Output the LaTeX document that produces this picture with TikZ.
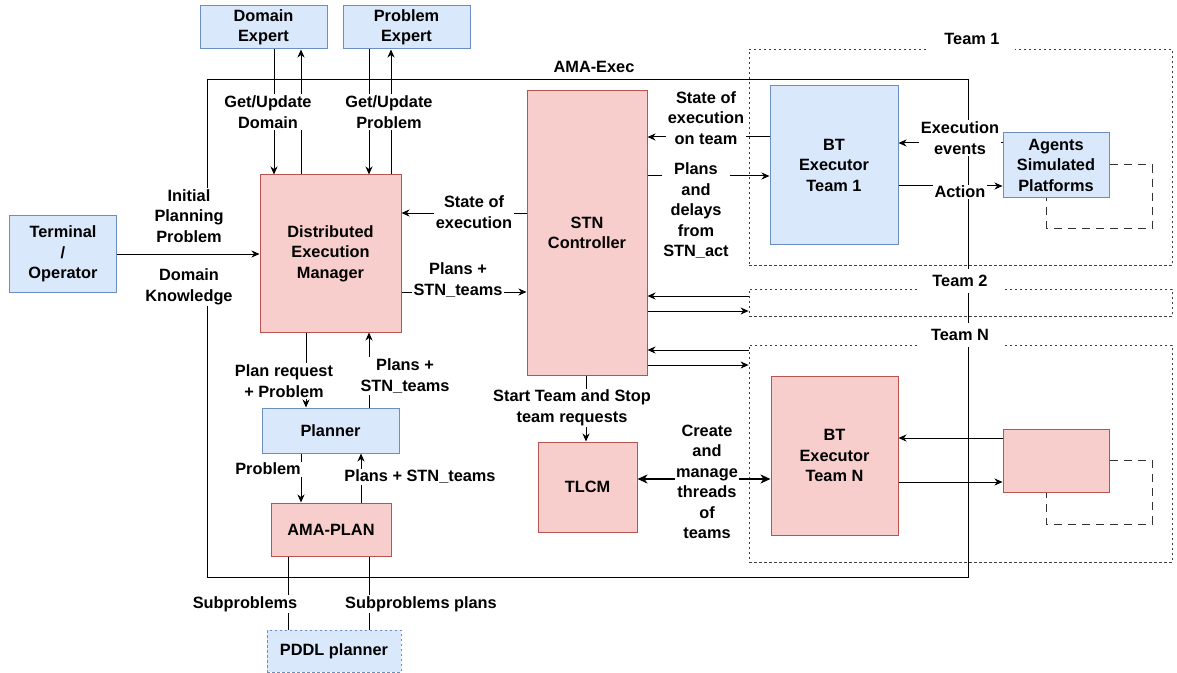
\documentclass[tikz,border=0pt]{standalone}
\usepackage{fontspec}
\setmainfont{Liberation Sans}
\usetikzlibrary{arrows.meta}

\definecolor{bfill}{HTML}{DAE8FC}
\definecolor{bline}{HTML}{6C8EBF}
\definecolor{rfill}{HTML}{F8CECC}
\definecolor{rline}{HTML}{B85450}

\newcommand{\figfont}{\fontsize{16.4}{20.6}\selectfont\bfseries}

\begin{document}
\begin{tikzpicture}[x=1bp, y=-1bp,
    box/.style={draw, align=center, font=\figfont, inner sep=2bp, line width=1bp},
    bluebox/.style={box, fill=bfill, draw=bline},
    redbox/.style={box, fill=rfill, draw=rline},
    teambox/.style={draw=black!75, line width=0.8bp, dash pattern=on 2.5bp off 2.5bp},
    loopdash/.style={draw=black!80, line width=1bp, dash pattern=on 8bp off 6bp},
    lbl/.style={fill=white, inner sep=1.5bp, align=center, font=\figfont},
    arr/.style={-{Stealth[length=8bp,width=7bp,inset=2.5bp]}, line width=1bp},
    bigarr/.style={{Stealth[length=10bp,width=9bp,inset=3bp]}-{Stealth[length=10bp,width=9bp,inset=3bp]}, line width=2bp}]

    \useasboundingbox (0,0) rectangle (1177,673);

    % Draw the AMA-Exec frame (left side is broken by the terminal labels)
    \draw[line width=1bp] (207,200) -- (207,80) -- (968,80) -- (968,577) -- (207,577) -- (207,296);
    \node[font=\figfont] (amaexec) at (594,67) {AMA-Exec};

    % Team frames
    \node[teambox, minimum width=423bp, minimum height=216bp] (team1) at (960.5,157) {};
    \node[teambox, minimum width=423bp, minimum height=27bp] (team2) at (960.5,302.5) {};
    \node[teambox, minimum width=423bp, minimum height=217bp] (teamn) at (960.5,453.5) {};
    \node[lbl, minimum width=86bp, minimum height=22bp] (team1lbl) at (972,39) {Team 1};
    \node[lbl, minimum width=85bp, minimum height=24bp] (team2lbl) at (960,281) {Team 2};
    \node[lbl, minimum width=85bp, minimum height=24bp] (teamnlbl) at (960,335) {Team N};

    % Blocks
    \node[bluebox, minimum width=127bp, minimum height=43bp] (de) at (263.5,27.5) {Domain\\Expert};
    \node[bluebox, minimum width=127bp, minimum height=43bp] (pe) at (406.5,27.5) {Problem\\Expert};
    \node[bluebox, minimum width=106bp, minimum height=76bp] (term) at (63,254) {Terminal\\/\\Operator};
    \node[redbox, minimum width=141bp, minimum height=157bp] (dem) at (330.5,253.5) {Distributed\\Execution\\Manager};
    \node[redbox, minimum width=120bp, minimum height=284bp] (stn) at (587,233) {STN\\Controller};
    \node[bluebox, minimum width=137bp, minimum height=45bp] (pl) at (330.5,430.5) {Planner};
    \node[redbox, minimum width=120bp, minimum height=53bp] (ap) at (331,529.5) {AMA-PLAN};
    \node[bluebox, dash pattern=on 2.5bp off 2.5bp, minimum width=134bp, minimum height=42bp] (pddl) at (334,651) {PDDL planner};
    \node[redbox, minimum width=99bp, minimum height=90bp] (tlcm) at (587.5,487) {TLCM};
    \node[bluebox, minimum width=128bp, minimum height=158bp] (bt1) at (834,165) {BT\\Executor\\Team 1};
    \node[bluebox, minimum width=106bp, minimum height=64bp] (asp) at (1056,165) {Agents\\Simulated\\Platforms};
    \node[redbox, minimum width=127bp, minimum height=159bp] (btn) at (834.5,455.5) {BT\\Executor\\Team N};
    \node[redbox, minimum width=106bp, minimum height=63bp] (agn) at (1056,460.5) {};

    % Self loops of the platforms
    \draw[loopdash] (asp.east) -| (1152,228) -| (1046,0 |- asp.south);
    \draw[loopdash] (agn.east) -| (1152,524) -| (1046,0 |- agn.south);

    % Terminal and experts
    \draw[arr] (term.east) -- (term.east -| dem.west);
    \draw[arr] (de.south -| 274,0) -- (dem.north -| 274,0);
    \draw[arr] (dem.north -| 301,0) -- (de.south -| 301,0);
    \draw[arr] (pe.south -| 369,0) -- (dem.north -| 369,0);
    \draw[arr] (dem.north -| 391,0) -- (pe.south -| 391,0);

    % Manager, planner and AMA-PLAN
    \draw[arr] (stn.west |- 0,213) -- (dem.east |- 0,213);
    \draw[arr] (dem.east |- 0,292) -- (stn.west |- 0,292);
    \draw[arr] (dem.south -| 306,0) -- (pl.north -| 306,0);
    \draw[arr] (pl.north -| 369,0) -- (dem.south -| 369,0);
    \draw[arr] (pl.south -| 301,0) -- (ap.north -| 301,0);
    \draw[arr] (ap.north -| 361,0) -- (pl.south -| 361,0);
    \draw[line width=1bp] (ap.south -| 288,0) -- (pddl.north -| 288,0);
    \draw[line width=1bp] (ap.south -| 369,0) -- (pddl.north -| 369,0);

    % STN controller and teams
    \draw[arr] (stn.south -| 586,0) -- (tlcm.north -| 586,0);
    \draw[bigarr] (tlcm.east |- 0,479) -- (btn.west |- 0,479);
    \draw[arr] (bt1.west |- 0,137) -- (stn.east |- 0,137);
    \draw[arr] (stn.east |- 0,176) -- (bt1.west |- 0,176);
    \draw[arr] (asp.west |- 0,143) -- (bt1.east |- 0,143);
    \draw[arr] (bt1.east |- 0,186) -- (asp.west |- 0,186);
    \draw[arr] (team2.west |- 0,296) -- (stn.east |- 0,296);
    \draw[arr] (stn.east |- 0,311) -- (team2.west |- 0,311);
    \draw[arr] (teamn.west |- 0,350) -- (stn.east |- 0,350);
    \draw[arr] (stn.east |- 0,365) -- (teamn.west |- 0,365);
    \draw[arr] (agn.west |- 0,438) -- (btn.east |- 0,438);
    \draw[arr] (btn.east |- 0,482) -- (agn.west |- 0,482);

    % Connector labels
    \node[lbl] (lblgud) at (268,112) {Get/Update\\Domain};
    \node[lbl] (lblgup) at (389,112) {Get/Update\\Problem};
    \node[lbl] (lblipp) at (189,216) {Initial\\Planning\\Problem};
    \node[lbl] (lbldk) at (189,287) {Domain\\Knowledge};
    \node[lbl] (lblsoe) at (474,212) {State of\\execution};
    \node[lbl] (lblpst) at (458,280) {Plans +\\STN\_teams};
    \node[lbl] (lblprp) at (284,381) {Plan request\\+ Problem};
    \node[lbl] (lblpsu) at (405,376) {Plans +\\STN\_teams};
    \node[lbl] (lblprob) at (268,469) {Problem};
    \node[lbl] (lblpsd) at (420,477) {Plans + STN\_teams};
    \node[lbl] (lblsub) at (245,604) {Subproblems};
    \node[lbl] (lblsubp) at (421,604) {Subproblems plans};
    \node[lbl] (lblstart) at (572,408) {Start Team and Stop\\team requests};
    \node[lbl] (lblcreate) at (707,482) {Create\\and\\manage\\threads\\of\\teams};
    \node[lbl] (lblsot) at (706,118) {State of\\execution\\on team};
    \node[lbl] (lblpdl) at (696,211) {Plans\\and\\delays\\from\\STN\_act};
    \node[lbl] (lblee) at (960,138) {Execution\\events};
    \node[lbl] (lblact) at (960,192) {Action};

\end{tikzpicture}
\end{document}
